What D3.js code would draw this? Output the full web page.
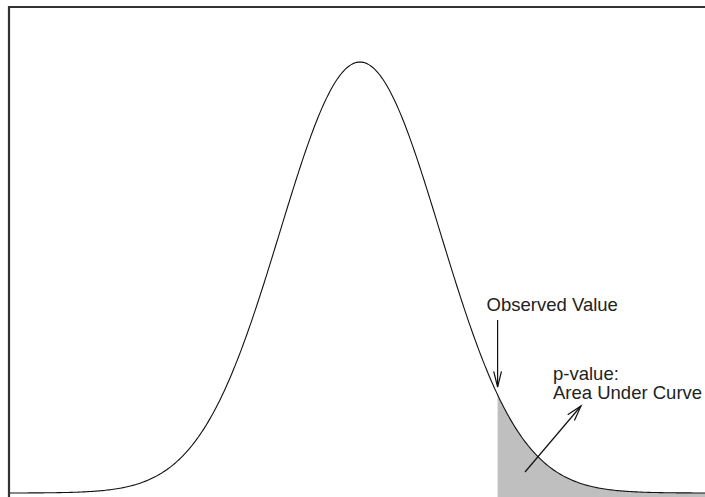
<!DOCTYPE html>
<html>
<head>
<meta charset="utf-8">
<script src="https://cdn.jsdelivr.net/npm/d3@7"></script>
<style>
  html, body { margin: 0; padding: 0; background: #fff; }
  svg { display: block; }
  text { font-family: "Liberation Sans", Arial, Helvetica, sans-serif; fill: #222; }
</style>
</head>
<body>
<svg id="chart" width="705" height="497"></svg>
<script>
// ---- data ----
const xDomain = [-4.5, 4.5];          // standard-normal z range
const observedZ = [1.72];             // observed test statistic
const labelObserved = ["Observed Value"];
const labelPValue = ["p-value:", "Area Under Curve"];

function dnorm(z) { return Math.exp(-z * z / 2) / Math.sqrt(2 * Math.PI); }
const zs = d3.range(-4.5, 4.5001, 0.02);
const curve = zs.map(z => ({ z: z, d: dnorm(z) }));

// ---- layout ----
const W = 705, H = 497;
const svg = d3.select("#chart");
const x = d3.scaleLinear().domain(xDomain).range([0, 720]);
const y = d3.scaleLinear().domain([0, dnorm(0)]).range([493, 62]);

const clip = svg.append("defs").append("clipPath").attr("id", "plotclip")
  .append("rect").attr("x", 9).attr("y", 7).attr("width", W - 9).attr("height", H - 7);

const g = svg.append("g").attr("clip-path", "url(#plotclip)");

// shaded tail
const obs = observedZ[0];
const tail = curve.filter(p => p.z >= obs);
tail.unshift({ z: obs, d: dnorm(obs) });
const area = d3.area().x(p => x(p.z)).y0(H + 5).y1(p => y(p.d));
g.append("path").datum(tail).attr("d", area).attr("fill", "#bfbfbf").attr("stroke", "none");

// curve
const line = d3.line().x(p => x(p.z)).y(p => y(p.d));
g.append("path").datum(curve).attr("d", line)
  .attr("fill", "none").attr("stroke", "#111").attr("stroke-width", 1.1);

// frame (top and left visible)
svg.append("line").attr("x1", 8).attr("x2", W).attr("y1", 7).attr("y2", 7)
  .attr("stroke", "#333").attr("stroke-width", 2);
svg.append("line").attr("x1", 9).attr("x2", 9).attr("y1", 6).attr("y2", H)
  .attr("stroke", "#333").attr("stroke-width", 2.2);

// arrows
function arrow(x1, y1, x2, y2, len, angDeg) {
  const a = Math.atan2(y2 - y1, x2 - x1);
  const ang = angDeg * Math.PI / 180;
  const gA = svg.append("g").attr("stroke", "#111").attr("stroke-width", 1.2).attr("fill", "none");
  gA.append("line").attr("x1", x1).attr("y1", y1).attr("x2", x2).attr("y2", y2);
  const p1 = [x2 - len * Math.cos(a - ang), y2 - len * Math.sin(a - ang)];
  const p2 = [x2 - len * Math.cos(a + ang), y2 - len * Math.sin(a + ang)];
  gA.append("path").attr("d", `M${p1[0]},${p1[1]}L${x2},${y2}L${p2[0]},${p2[1]}`);
}

const xo = x(obs);
svg.append("text").attr("x", xo - 11).attr("y", 311)
  .attr("font-size", 18.5).text(labelObserved[0]);
arrow(xo, 320, xo, 387, 16, 14);

svg.append("text").attr("x", 553).attr("y", 380).attr("font-size", 18.5).text(labelPValue[0]);
svg.append("text").attr("x", 553).attr("y", 399).attr("font-size", 18.5).text(labelPValue[1]);
arrow(525, 472, 581, 406, 16, 16);
</script>
</body>
</html>
